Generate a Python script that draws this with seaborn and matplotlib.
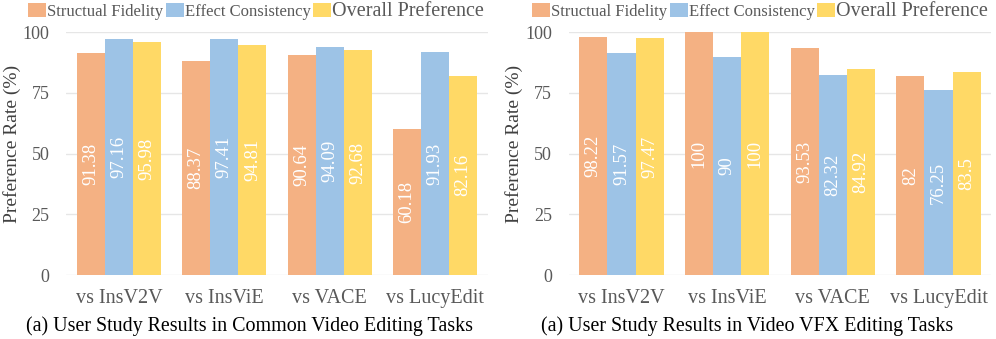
import matplotlib
matplotlib.use("Agg")
import matplotlib.pyplot as plt
import matplotlib.patches as mpatches
import seaborn as sns
import pandas as pd

# ---- data ----
methods = ["vs InsV2V", "vs InsViE", "vs VACE", "vs LucyEdit"]
series = ["Structual Fidelity", "Effect Consistency", "Overall Preference"]

common_structural = [91.38, 88.37, 90.64, 60.18]
common_effect = [97.16, 97.41, 94.09, 91.93]
common_overall = [95.98, 94.81, 92.68, 82.16]

vfx_structural = [98.22, 100, 93.53, 82]
vfx_effect = [91.57, 90, 82.32, 76.25]
vfx_overall = [97.47, 100, 84.92, 83.5]

y_ticks = [0, 25, 50, 75, 100]
y_label = "Preference Rate (%)"
captions = ["(a) User Study Results in Common Video Editing Tasks",
            "(a) User Study Results in Video VFX Editing Tasks"]

colors = ["#F4B183", "#9DC3E6", "#FFD966"]

sns.set_style("white")
plt.rcParams["font.family"] = ["Liberation Serif", "DejaVu Serif"]


def long_df(s1, s2, s3):
    rows = []
    for name, vals in zip(series, [s1, s2, s3]):
        for m, v in zip(methods, vals):
            rows.append({"method": m, "series": name, "value": v})
    return pd.DataFrame(rows)


fig = plt.figure(figsize=(9.96, 3.39), dpi=100)
ax_l = fig.add_axes([66.3 / 996, 64 / 339, 421.4 / 996, 242.7 / 339])
ax_r = fig.add_axes([568.7 / 996, 64 / 339, 422.6 / 996, 242.7 / 339])

datasets = [long_df(common_structural, common_effect, common_overall),
            long_df(vfx_structural, vfx_effect, vfx_overall)]

gray = "#595959"
for ax, df, cap, cx, lx in zip([ax_l, ax_r], datasets, captions,
                               [249 / 996, 747.5 / 996], [28 / 996, 532 / 996]):
    sns.barplot(data=df, x="method", y="value", hue="series",
                order=methods, hue_order=series, palette=colors,
                width=0.8, linewidth=0, saturation=1, errorbar=None, ax=ax,
                zorder=2)
    if ax.legend_ is not None:
        ax.legend_.remove()
    for cont in ax.containers:
        ax.bar_label(cont, labels=[f"{v:g}" for v in cont.datavalues],
                     label_type="center", rotation=90, color="white",
                     fontsize=13.5)
    ax.set_ylim(0, 100)
    ax.set_xlim(-0.5, 3.5)
    ax.set_yticks(y_ticks)
    ax.yaxis.grid(True, color="#E6E6E6", linewidth=1, zorder=0)
    ax.set_axisbelow(True)
    for sp in ax.spines.values():
        sp.set_visible(False)
    ax.tick_params(axis="y", length=0, pad=12, labelsize=13, labelcolor=gray)
    ax.tick_params(axis="x", length=0, pad=10, labelsize=14.5, labelcolor=gray)
    ax.set_xlabel("")
    ax.set_ylabel(y_label, fontsize=14, color="#404040")
    ax.yaxis.set_label_coords(-0.107, 0.541)
    fig.text(cx, 1 - 326 / 339, cap, ha="center", va="center",
             fontsize=14.4, color="black")
    handles = [mpatches.Patch(facecolor=c, edgecolor="none") for c in colors]
    leg = fig.legend(handles, series, loc="center left",
                     bbox_to_anchor=(lx, 1 - 11 / 339), ncol=3, frameon=False,
                     fontsize=12, handlelength=1.08, handleheight=0.9,
                     handletextpad=0.05, columnspacing=0.17, borderpad=0,
                     borderaxespad=0, labelcolor=gray)
    leg.get_texts()[2].set_fontsize(14.5)

fig.savefig("out.png", dpi=100)
